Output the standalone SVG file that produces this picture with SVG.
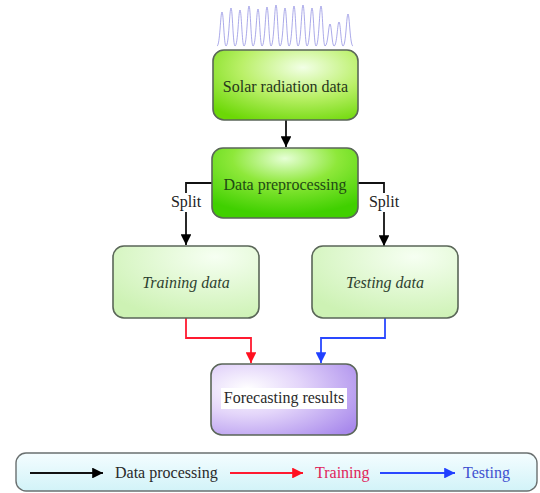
<svg xmlns="http://www.w3.org/2000/svg" width="540" height="493" viewBox="0 0 540 493">
<defs>
<radialGradient id="gBright" cx="0.62" cy="0.25" r="0.85">
<stop offset="0" stop-color="#f2ffe6"/>
<stop offset="0.5" stop-color="#baf068"/>
<stop offset="1" stop-color="#6cd806"/>
</radialGradient>
<radialGradient id="gBright2" cx="0.5" cy="0.15" r="0.8">
<stop offset="0" stop-color="#e6ffd6"/>
<stop offset="0.45" stop-color="#8ee83a"/>
<stop offset="1" stop-color="#40d000"/>
</radialGradient>
<radialGradient id="gLight" cx="0.7" cy="0.15" r="0.9">
<stop offset="0" stop-color="#f6fff2"/>
<stop offset="1" stop-color="#cdf2b4"/>
</radialGradient>
<radialGradient id="gPurple" cx="0.25" cy="0.35" r="0.9">
<stop offset="0" stop-color="#ffffff"/>
<stop offset="0.4" stop-color="#e4d6fa"/>
<stop offset="1" stop-color="#a98aec"/>
</radialGradient>
<linearGradient id="gCyan" x1="0" y1="0" x2="0" y2="1">
<stop offset="0" stop-color="#f4fdff"/>
<stop offset="1" stop-color="#d2f3f8"/>
</linearGradient>
<marker id="ahK" viewBox="0 0 10 10" refX="10" refY="5" markerWidth="6" markerHeight="6" orient="auto" markerUnits="strokeWidth">
<path d="M0,0 L10,5 L0,10 z" fill="#000"/>
</marker>
<marker id="ahR" viewBox="0 0 10 10" refX="10" refY="5" markerWidth="6" markerHeight="6" orient="auto" markerUnits="strokeWidth">
<path d="M0,0 L10,5 L0,10 z" fill="#ff1020"/>
</marker>
<marker id="ahB" viewBox="0 0 10 10" refX="10" refY="5" markerWidth="6" markerHeight="6" orient="auto" markerUnits="strokeWidth">
<path d="M0,0 L10,5 L0,10 z" fill="#2040ff"/>
</marker>
</defs>
<style>
.box{stroke:#5a6658;stroke-width:1.6}
.t{font-family:"Liberation Serif","Times New Roman",serif;font-size:16px;text-anchor:middle}
.tl{font-family:"Liberation Serif","Times New Roman",serif;font-size:16px}
.k{fill:none;stroke:#111;stroke-width:1.8}
.r{fill:none;stroke:#ff1a30;stroke-width:1.8}
.b{fill:none;stroke:#2a48ff;stroke-width:1.8}
</style>

<g id="wave">
<path d="M217,46 C220,46 220.5,12 222,12 C223.5,12 224,46 226,46 C229,46 229.5,8 231,8 C232.5,8 233,46 235,46 C238,46 238.5,10 240,10 C241.5,10 242,46 244,46 C247,46 247.5,6 249,6 C250.5,6 251,46 253,46 C256,46 256.5,9 258,9 C259.5,9 260,46 262,46 C265,46 265.5,7 267,7 C268.5,7 269,46 271,46 C274,46 274.5,5 276,5 C277.5,5 278,46 280,46 C283,46 283.5,8 285,8 C286.5,8 287,46 289,46 C292,46 292.5,6 294,6 C295.5,6 296,46 298,46 C301,46 301.5,5 303,5 C304.5,5 305,46 307,46 C310,46 310.5,8 312,8 C313.5,8 314,46 316,46 C319,46 319.5,6 321,6 C322.5,6 323,46 325,46 C328,46 328.5,24 330,24 C331.5,24 332,46 334,46 C337,46 337.5,22 339,22 C340.5,22 341,46 343,46 C346,46 346.5,14 348,14 C349.5,14 350,46 353,46" fill="none" stroke="#8a88e0" stroke-width="0.9" opacity="0.8"/>
</g>

<g id="connectors">
<path class="k" d="M286,120 V147" marker-end="url(#ahK)"/>
<path class="k" d="M212,183 H186 V193"/>
<path class="k" d="M186,212 V245" marker-end="url(#ahK)"/>
<text class="t" x="186" y="207" fill="#222">Split</text>
<path class="k" d="M358,183 H384 V193"/>
<path class="k" d="M384,212 V246" marker-end="url(#ahK)"/>
<text class="t" x="384" y="207" fill="#222">Split</text>
<path class="r" d="M186,318 V338 H251 V363" marker-end="url(#ahR)"/>
<path class="b" d="M385,318 V338 H321 V363" marker-end="url(#ahB)"/>
</g>

<g id="solar">
<rect class="box" x="213" y="50" width="145" height="70" rx="11" fill="url(#gBright)"/>
<text class="t" x="285.5" y="92" fill="#27361c">Solar radiation data</text>
</g>

<g id="preprocessing">
<rect class="box" x="212" y="148" width="146" height="70" rx="11" fill="url(#gBright2)"/>
<text class="t" x="285" y="190" fill="#1f4a14">Data preprocessing</text>
</g>

<g id="training">
<rect class="box" x="113" y="246" width="146" height="72" rx="11" fill="url(#gLight)"/>
<text class="t" x="186" y="288" fill="#2e4230" font-style="italic">Training data</text>
</g>

<g id="testing">
<rect class="box" x="312" y="246" width="146" height="72" rx="11" fill="url(#gLight)"/>
<text class="t" x="385" y="288" fill="#2e4230" font-style="italic">Testing data</text>
</g>

<g id="forecasting">
<rect class="box" x="211" y="364" width="146" height="71" rx="11" fill="url(#gPurple)" stroke="#5a5070"/>
<rect x="221" y="388" width="126" height="21" fill="#ffffff"/>
<text class="t" x="284" y="403" fill="#2a2a2a">Forecasting results</text>
</g>

<g id="legend">
<rect x="16" y="453" width="521" height="38" rx="10" fill="url(#gCyan)" stroke="#6a7070" stroke-width="1.4"/>
<path class="k" d="M30,473 H103" marker-end="url(#ahK)"/>
<text class="tl" x="115" y="478" fill="#2a2a2a">Data processing</text>
<path class="r" d="M230,473 H303" marker-end="url(#ahR)"/>
<text class="tl" x="315" y="478" fill="#e0245a">Training</text>
<path class="b" d="M380,473 H455" marker-end="url(#ahB)"/>
<text class="tl" x="463" y="478" fill="#4050d0">Testing</text>
</g>
</svg>
